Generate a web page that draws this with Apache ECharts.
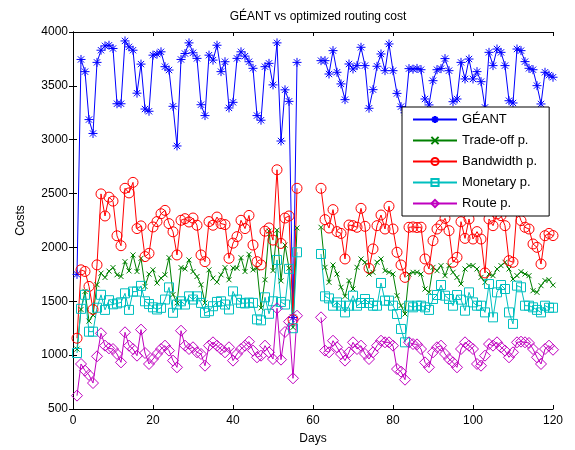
<!DOCTYPE html>
<html>
<head>
<meta charset="utf-8">
<script src="https://cdn.jsdelivr.net/npm/echarts@6/dist/echarts.min.js"></script>
<style>
  html, body { margin: 0; padding: 0; background: #fff; }
  #chart { width: 575px; height: 450px; }
</style>
</head>
<body>
<div id="chart"></div>
<script>
// x values (days); 57-61 have no data
const days = [
  1, 2, 3, 4, 5, 6, 7, 8, 9, 10, 11, 12, 13, 14, 15, 16, 17, 18, 19, 20,
  21, 22, 23, 24, 25, 26, 27, 28, 29, 30, 31, 32, 33, 34, 35, 36, 37, 38, 39, 40,
  41, 42, 43, 44, 45, 46, 47, 48, 49, 50, 51, 52, 53, 54, 55, 56, 57, 58, 59, 60,
  61, 62, 63, 64, 65, 66, 67, 68, 69, 70, 71, 72, 73, 74, 75, 76, 77, 78, 79, 80,
  81, 82, 83, 84, 85, 86, 87, 88, 89, 90, 91, 92, 93, 94, 95, 96, 97, 98, 99, 100,
  101, 102, 103, 104, 105, 106, 107, 108, 109, 110, 111, 112, 113, 114, 115, 116, 117, 118, 119, 120
];

const geant = [
  1750, 3745, 3632, 3187, 3058, 3718, 3831, 3871, 3877, 3847,
  3334, 3334, 3917, 3862, 3831, 3432, 3702, 3285, 3264, 3785,
  3795, 3816, 3678, 3647, 3310, 2942, 3745, 3800, 3899, 3807,
  3755, 3325, 3224, 3785, 3739, 3877, 3632, 3724, 3295, 3347,
  3755, 3816, 3776, 3724, 3663, 3224, 3181, 3678, 3709, 3509,
  3899, 2988, 3463, 3356, 1350, 3718, null, null, null, null,
  null, 3734, 3734, 3610, 3827, 3626, 3518, 3372, 3703, 3657,
  3688, 3858, 3688, 3292, 3465, 3682, 3796, 3641, 3889, 3641,
  3430, 3307, 3250, 3660, 3655, 3662, 3650, 3378, 3323, 3548,
  3650, 3660, 3753, 3641, 3353, 3378, 3718, 3564, 3749, 3564,
  3632, 3539, 3300, 3811, 3688, 3842, 3811, 3688, 3362, 3341,
  3842, 3827, 3725, 3663, 3650, 3502, 3332, 3626, 3600, 3580
];

const tradeOff = [
  1056, 1424, 1592, 1316, 1372, 1654, 1761, 1721, 1780, 1813,
  1746, 1730, 1868, 1782, 1930, 1776, 1899, 1638, 1752, 1792,
  1669, 1715, 1746, 1905, 1562, 1485, 1813, 1801, 1884, 1776,
  1730, 1654, 1485, 1792, 1715, 1678, 1746, 1813, 1700, 1810,
  1807, 1905, 1776, 1936, 1792, 1807, 1439, 1700, 2151, 1785,
  2160, 1690, 2022, 1807, 1258, 2181, null, null, null, null,
  null, 2187, 1815, 1676, 1837, 1753, 1630, 1546, 1692, 1614,
  1815, 1893, 1862, 1753, 1769, 1862, 1893, 1784, 1769, 1753,
  1552, 1460, 1382, 1753, 1769, 1769, 1753, 1614, 1583, 1815,
  1784, 1831, 1738, 1831, 1769, 1722, 1661, 1800, 1831, 1831,
  1800, 1722, 1676, 1753, 1738, 1800, 1831, 1862, 1800, 1707,
  1738, 1775, 1753, 1738, 1598, 1583, 1645, 1692, 1700, 1650
];

const bandwidth = [
  1157, 1792, 1777, 1638, 1424, 1838, 2497, 2292, 2467, 2430,
  2108, 2016, 2549, 2506, 2604, 2175, 2200, 1915, 1945, 2190,
  2240, 2313, 2344, 2221, 2145, 1930, 2252, 2267, 2236, 2273,
  2206, 1930, 1868, 2240, 2206, 2282, 2221, 2212, 1899, 2040,
  2100, 2252, 2175, 2297, 2022, 1868, 1838, 2151, 2181, 2068,
  2721, 2037, 2273, 2292, 1330, 2549, null, null, null, null,
  null, 2549, 2258, 2180, 2351, 2147, 2130, 1893, 2208, 2202,
  2187, 2363, 2196, 1806, 1986, 2202, 2301, 2171, 2382, 2171,
  1955, 1837, 1722, 2187, 2190, 2185, 2188, 1893, 1800, 2063,
  2171, 2208, 2270, 2156, 1862, 1908, 2239, 2084, 2264, 2078,
  2147, 2078, 1763, 2264, 2202, 2311, 2295, 2202, 1877, 1862,
  2357, 2249, 2187, 2171, 2032, 2001, 1846, 2109, 2130, 2110
];

const monetary = [
  1020, 1430, 1560, 1218, 1218, 1440, 1560, 1420, 1510, 1472,
  1480, 1490, 1574, 1420, 1590, 1590, 1643, 1500, 1475, 1444,
  1424, 1439, 1516, 1629, 1393, 1470, 1500, 1470, 1546, 1516,
  1546, 1485, 1393, 1408, 1454, 1494, 1500, 1470, 1424, 1592,
  1516, 1485, 1480, 1488, 1485, 1332, 1323, 1537, 1384, 1500,
  1884, 1494, 1470, 1801, 1250, 1955, null, null, null, null,
  null, 1939, 1546, 1527, 1459, 1490, 1459, 1397, 1459, 1552,
  1459, 1484, 1521, 1484, 1459, 1459, 1670, 1506, 1506, 1459,
  1382, 1243, 1119, 1459, 1444, 1459, 1459, 1444, 1420, 1521,
  1558, 1651, 1552, 1521, 1459, 1558, 1515, 1413, 1583, 1490,
  1459, 1459, 1397, 1660, 1351, 1583, 1651, 1614, 1397, 1290,
  1645, 1630, 1459, 1459, 1444, 1420, 1397, 1459, 1440, 1440
];

const route = [
  624, 918, 856, 816, 741, 989, 1203, 1088, 1063, 1057,
  1011, 933, 1212, 1088, 1057, 995, 1237, 1020, 918, 964,
  1011, 1057, 1088, 1042, 949, 887, 1227, 1088, 1057, 1073,
  1026, 1011, 902, 1088, 1119, 1088, 1057, 1026, 1073, 949,
  1011, 1057, 1088, 1125, 1042, 980, 995, 1088, 1026, 964,
  1435, 958, 1215, 1311, 785, 1366, null, null, null, null,
  null, 1351, 1042, 1026, 1134, 1073, 1011, 949, 1026, 1119,
  1057, 1088, 1011, 964, 1026, 1088, 1134, 1119, 1119, 1088,
  871, 847, 772, 1119, 1103, 1100, 1057, 933, 887, 1026,
  1073, 1088, 1011, 964, 933, 887, 1057, 1119, 1088, 1057,
  918, 902, 995, 1103, 1088, 1119, 1073, 1042, 980, 1026,
  1119, 1125, 1119, 1113, 1057, 980, 918, 1057, 1088, 1050
];

const seriesNames = ['GÉANT', 'Trade-off p.', 'Bandwidth p.', 'Monetary p.', 'Route p.'];
const xTicks = [0, 20, 40, 60, 80, 100, 120];
const yTicks = [500, 1000, 1500, 2000, 2500, 3000, 3500, 4000];

// matlab style marker shapes drawn as strokes
const starPath = 'path://M0,10L20,10M10,0L10,20M3,3L17,17M17,3L3,17';
const crossPath = 'path://M0,0L20,20M20,0L0,20';

const font = '"Liberation Sans", Arial, sans-serif';

function makeSeries(name, values, color, symbol, size) {
  return {
    name: name,
    type: 'line',
    data: days.map((d, i) => [d, values[i] === null ? '-' : values[i]]),
    symbol: symbol,
    symbolSize: size,
    showSymbol: true,
    showAllSymbol: true,
    connectNulls: false,
    animation: false,
    lineStyle: { color: color, width: 1 },
    itemStyle: { color: 'rgba(0,0,0,0)', borderColor: color, borderWidth: 1 },
    emphasis: { disabled: true }
  };
}

const chart = echarts.init(document.getElementById('chart'));

const axisCommon = {
  axisLine: { show: true, lineStyle: { color: '#000', width: 1 } },
  axisTick: { show: true, inside: true, length: 4, lineStyle: { color: '#000' } },
  splitLine: { show: false }
};

chart.setOption({
  animation: false,
  backgroundColor: '#fff',
  title: {
    text: 'GÉANT vs optimized routing cost',
    left: 313,
    top: 6,
    textAlign: 'center',
    textStyle: { fontFamily: font, fontSize: 12, fontWeight: 'normal', color: '#000' }
  },
  grid: { left: 73, right: 22, top: 32, bottom: 40 },
  legend: {
    data: seriesNames,
    orient: 'vertical',
    left: 402,
    top: 107,
    padding: [6, 12, 6, 10],
    itemWidth: 44,
    itemHeight: 9,
    itemGap: 8,
    backgroundColor: '#fff',
    borderColor: '#000',
    borderWidth: 1,
    borderRadius: 0,
    textStyle: { fontFamily: font, fontSize: 13, color: '#000' }
  },
  xAxis: [
    Object.assign({
      type: 'value', min: xTicks[0], max: xTicks[xTicks.length - 1], interval: 20,
      name: 'Days', nameLocation: 'middle', nameGap: 24,
      nameTextStyle: { fontFamily: font, fontSize: 12, color: '#000' },
      axisLabel: { fontFamily: font, fontSize: 12, color: '#000', margin: 6 }
    }, axisCommon),
    Object.assign({
      type: 'value', position: 'top', min: xTicks[0], max: xTicks[xTicks.length - 1], interval: 20,
      axisLabel: { show: false }
    }, axisCommon)
  ],
  yAxis: [
    Object.assign({
      type: 'value', min: yTicks[0], max: yTicks[yTicks.length - 1], interval: 500,
      name: 'Costs', nameLocation: 'middle', nameGap: 46,
      nameTextStyle: { fontFamily: font, fontSize: 12, color: '#000' },
      axisLabel: { fontFamily: font, fontSize: 12, color: '#000', margin: 5, formatter: v => String(v) }
    }, axisCommon),
    Object.assign({
      type: 'value', position: 'right', min: yTicks[0], max: yTicks[yTicks.length - 1], interval: 500,
      axisLabel: { show: false }
    }, axisCommon)
  ],
  series: [
    makeSeries(seriesNames[0], geant, '#0000FF', starPath, 9),
    makeSeries(seriesNames[1], tradeOff, '#008000', crossPath, 5),
    makeSeries(seriesNames[2], bandwidth, '#FF0000', 'circle', 10),
    makeSeries(seriesNames[3], monetary, '#00BFBF', 'rect', 9),
    makeSeries(seriesNames[4], route, '#BF00BF', 'diamond', 11)
  ]
});
</script>
</body>
</html>
